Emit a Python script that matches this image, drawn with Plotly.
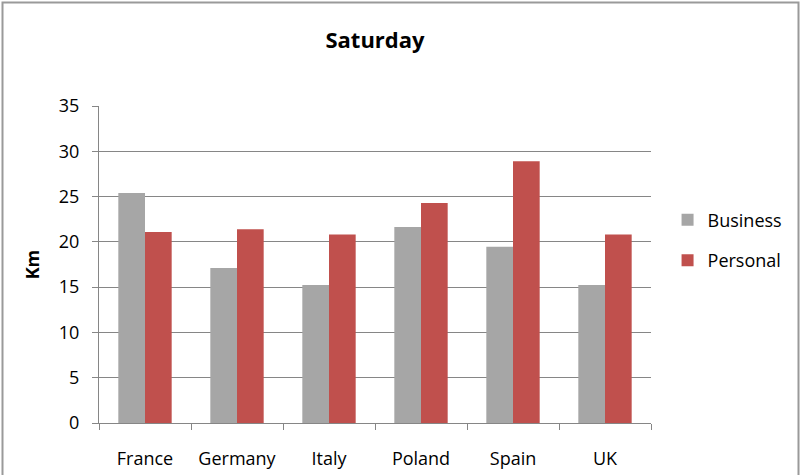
import plotly.graph_objects as go

categories = ["France", "Germany", "Italy", "Poland", "Spain", "UK"]
business = [25.4, 17.1, 15.25, 21.65, 19.45, 15.25]
personal = [21.1, 21.4, 20.8, 24.3, 28.9, 20.8]
y_ticks = [0, 5, 10, 15, 20, 25, 30, 35]

FONT = "Open Sans"

fig = go.Figure()
fig.add_trace(go.Bar(name="Business", x=categories, y=business,
                     marker=dict(color="#A6A6A6", line=dict(width=0)),
                     legendgroup="b"))
fig.add_trace(go.Bar(name="Personal", x=categories, y=personal,
                     marker=dict(color="#C0504D", line=dict(width=0)),
                     legendgroup="p"))

fig.update_layout(
    width=801, height=475,
    margin=dict(l=99, r=150, t=106, b=52),
    paper_bgcolor="white", plot_bgcolor="white",
    barmode="group", bargap=0.42, bargroupgap=0,
    font=dict(family=FONT, size=18, color="#000000"),
    title=dict(text="<b>Saturday</b>", x=0.5, xanchor="center",
               y=0.915, yanchor="middle", xref="paper",
               font=dict(family=FONT, size=22, color="#000000")),
    legend=dict(x=1.03, xanchor="left", y=0.577, yanchor="middle",
                font=dict(family=FONT, size=18), tracegroupgap=14,
                itemwidth=30, bgcolor="rgba(0,0,0,0)"),
    showlegend=True,
)
fig.update_xaxes(showline=True, linecolor="#868686", linewidth=1,
                 ticks="outside", tickson="boundaries", ticklen=6,
                 tickcolor="#868686", showgrid=False, automargin=False,
                 tickfont=dict(family=FONT, size=18), ticklabelstandoff=19)
fig.update_yaxes(range=[0, 35], tickvals=y_ticks, showline=True,
                 linecolor="#868686", linewidth=1, ticks="outside",
                 ticklen=6, tickcolor="#868686", showgrid=True,
                 gridcolor="#868686", gridwidth=1, zeroline=False,
                 automargin=False, ticklabelstandoff=9,
                 tickfont=dict(family=FONT, size=18),
                 title=dict(text="<b>Km</b>", font=dict(family=FONT, size=18),
                            standoff=14))

# outer chart border (bottom edge falls outside the picture)
fig.add_shape(type="rect", xref="paper", yref="paper",
              x0=(2.5 - 99) / 552, x1=(798.5 - 99) / 552,
              y0=(423 - 490) / 317, y1=(423 - 2.5) / 317,
              line=dict(color="#9A9A9A", width=2), fillcolor="rgba(0,0,0,0)",
              layer="below")

fig.write_html("out.html", config={"displayModeBar": False},
               post_script="document.body.style.margin='0';")
